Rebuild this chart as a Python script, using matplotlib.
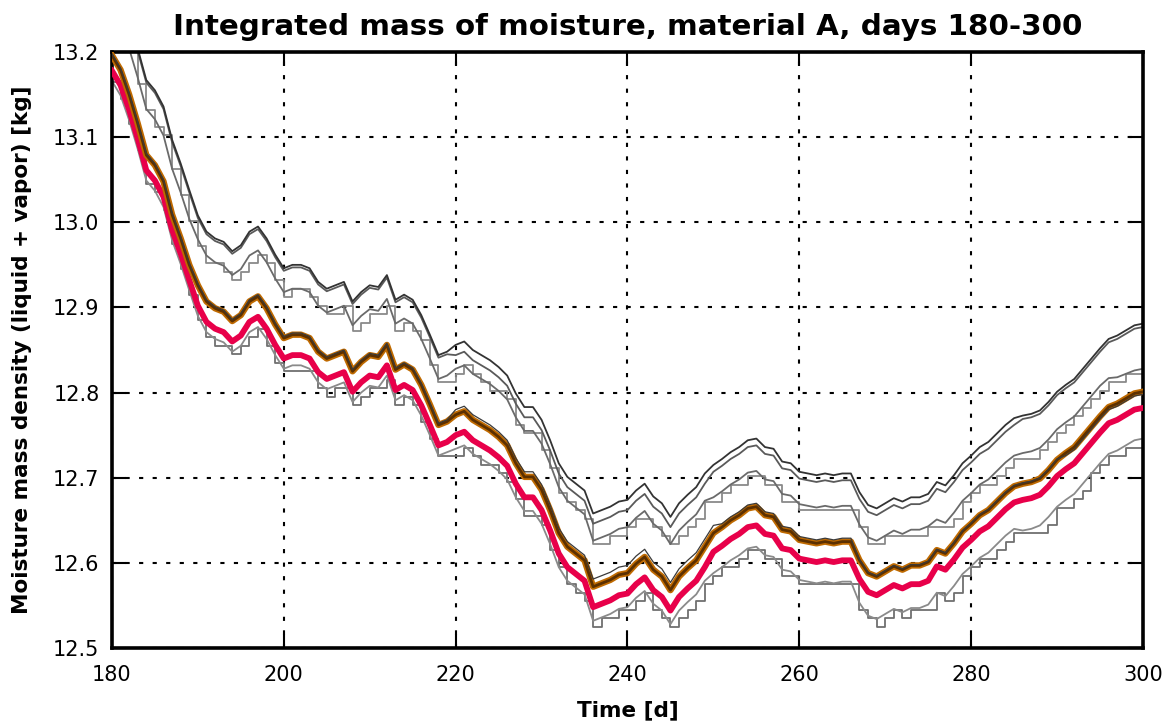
import numpy as np
import matplotlib
matplotlib.use("Agg")
import matplotlib.pyplot as plt

days = list(range(180, 301))

brown = [13.196,13.179,13.150,13.116,13.079,13.067,13.048,13.009,12.981,12.950,
12.926,12.907,12.899,12.895,12.884,12.891,12.907,12.913,12.899,12.880,
12.864,12.868,12.868,12.864,12.848,12.840,12.844,12.848,12.825,12.836,
12.844,12.842,12.856,12.827,12.833,12.827,12.809,12.786,12.762,12.766,
12.774,12.778,12.768,12.762,12.756,12.748,12.738,12.717,12.701,12.701,
12.686,12.662,12.635,12.619,12.611,12.603,12.572,12.576,12.580,12.586,
12.588,12.599,12.607,12.592,12.584,12.568,12.584,12.594,12.603,12.619,
12.635,12.642,12.650,12.656,12.664,12.666,12.656,12.654,12.639,12.637,
12.627,12.625,12.623,12.625,12.623,12.625,12.625,12.603,12.588,12.584,
12.590,12.596,12.592,12.597,12.597,12.601,12.615,12.611,12.623,12.637,
12.646,12.656,12.662,12.672,12.682,12.690,12.693,12.695,12.699,12.709,
12.721,12.729,12.736,12.748,12.760,12.772,12.783,12.787,12.793,12.799,
12.801]

red = [13.178,13.161,13.132,13.098,13.061,13.049,13.030,12.991,12.963,12.932,
12.902,12.883,12.875,12.871,12.860,12.867,12.883,12.889,12.875,12.856,
12.840,12.844,12.844,12.840,12.824,12.816,12.820,12.824,12.801,12.812,
12.820,12.818,12.832,12.803,12.809,12.803,12.785,12.762,12.738,12.742,
12.750,12.754,12.744,12.738,12.732,12.724,12.714,12.693,12.677,12.677,
12.662,12.638,12.611,12.595,12.587,12.579,12.548,12.552,12.556,12.562,
12.564,12.575,12.583,12.568,12.560,12.544,12.560,12.570,12.579,12.595,
12.613,12.620,12.628,12.634,12.642,12.644,12.634,12.632,12.617,12.615,
12.605,12.603,12.601,12.603,12.601,12.603,12.603,12.581,12.566,12.562,
12.568,12.574,12.570,12.575,12.575,12.579,12.596,12.592,12.604,12.618,
12.627,12.637,12.643,12.653,12.663,12.671,12.674,12.676,12.680,12.690,
12.702,12.710,12.717,12.729,12.741,12.753,12.764,12.768,12.774,12.780,
12.782]

upper_a = [13.284,13.267,13.238,13.204,13.167,13.155,13.136,13.097,13.069,13.038,
13.008,12.989,12.981,12.977,12.966,12.973,12.989,12.995,12.981,12.962,
12.946,12.950,12.950,12.946,12.930,12.922,12.926,12.930,12.907,12.918,
12.926,12.924,12.938,12.909,12.915,12.909,12.891,12.868,12.844,12.848,
12.856,12.860,12.850,12.844,12.838,12.830,12.820,12.799,12.783,12.783,
12.768,12.744,12.717,12.701,12.693,12.685,12.658,12.662,12.666,12.672,
12.674,12.685,12.693,12.678,12.670,12.654,12.670,12.680,12.689,12.705,
12.715,12.722,12.730,12.736,12.744,12.746,12.736,12.734,12.719,12.717,
12.707,12.705,12.703,12.705,12.703,12.705,12.705,12.683,12.668,12.664,
12.670,12.676,12.672,12.677,12.677,12.681,12.695,12.691,12.703,12.717,
12.726,12.736,12.742,12.752,12.762,12.770,12.773,12.775,12.779,12.789,
12.801,12.809,12.816,12.828,12.840,12.852,12.863,12.867,12.873,12.879,
12.881]

upper_b = [13.281,13.264,13.235,13.201,13.164,13.152,13.133,13.094,13.066,13.035,
13.005,12.986,12.978,12.974,12.963,12.970,12.986,12.992,12.978,12.959,
12.943,12.947,12.947,12.943,12.927,12.919,12.923,12.927,12.904,12.915,
12.923,12.921,12.935,12.906,12.912,12.906,12.888,12.865,12.841,12.845,
12.844,12.848,12.838,12.832,12.826,12.818,12.808,12.787,12.771,12.771,
12.756,12.732,12.705,12.689,12.681,12.673,12.646,12.650,12.654,12.660,
12.662,12.673,12.681,12.666,12.658,12.642,12.658,12.668,12.677,12.693,
12.707,12.714,12.722,12.728,12.736,12.738,12.728,12.726,12.711,12.709,
12.699,12.697,12.695,12.697,12.695,12.697,12.697,12.675,12.660,12.656,
12.662,12.668,12.664,12.669,12.669,12.673,12.687,12.683,12.695,12.709,
12.718,12.728,12.734,12.744,12.754,12.762,12.769,12.771,12.775,12.785,
12.797,12.805,12.812,12.824,12.836,12.848,12.859,12.863,12.869,12.875,
12.877]

mid_smooth = [13.250,13.233,13.204,13.170,13.133,13.121,13.102,13.063,13.035,13.004,
12.980,12.961,12.953,12.949,12.938,12.945,12.961,12.967,12.953,12.934,
12.918,12.922,12.922,12.918,12.902,12.894,12.898,12.902,12.879,12.890,
12.898,12.896,12.910,12.881,12.887,12.881,12.863,12.840,12.816,12.820,
12.828,12.832,12.822,12.816,12.810,12.802,12.792,12.771,12.755,12.755,
12.740,12.716,12.689,12.673,12.665,12.657,12.626,12.630,12.634,12.640,
12.642,12.653,12.661,12.646,12.638,12.622,12.638,12.648,12.657,12.673,
12.677,12.684,12.692,12.698,12.706,12.708,12.698,12.696,12.681,12.679,
12.669,12.667,12.665,12.667,12.665,12.667,12.667,12.645,12.630,12.626,
12.632,12.638,12.634,12.639,12.639,12.643,12.651,12.647,12.659,12.673,
12.682,12.692,12.698,12.708,12.718,12.726,12.729,12.731,12.735,12.745,
12.757,12.765,12.772,12.784,12.796,12.808,12.817,12.818,12.822,12.826,
12.828]

mid_step = [13.242,13.232,13.202,13.162,13.132,13.112,13.102,13.062,13.032,13.002,
12.972,12.952,12.952,12.942,12.932,12.942,12.952,12.962,12.952,12.932,
12.912,12.922,12.922,12.912,12.902,12.892,12.892,12.902,12.872,12.882,
12.892,12.892,12.902,12.872,12.882,12.872,12.862,12.832,12.812,12.812,
12.822,12.832,12.822,12.812,12.802,12.802,12.792,12.762,12.752,12.752,
12.732,12.712,12.682,12.672,12.662,12.652,12.622,12.622,12.632,12.632,
12.642,12.652,12.652,12.642,12.632,12.622,12.632,12.642,12.652,12.672,
12.672,12.682,12.692,12.692,12.702,12.702,12.692,12.692,12.672,12.672,
12.662,12.662,12.662,12.662,12.662,12.662,12.662,12.642,12.622,12.622,
12.632,12.632,12.632,12.632,12.632,12.642,12.642,12.642,12.652,12.672,
12.682,12.692,12.692,12.702,12.712,12.722,12.722,12.722,12.732,12.742,
12.752,12.762,12.772,12.782,12.792,12.802,12.812,12.812,12.822,12.822,
12.822]

near_mean = [13.198,13.181,13.152,13.118,13.081,13.069,13.050,13.011,12.983,12.952,
12.928,12.909,12.901,12.897,12.886,12.893,12.909,12.915,12.901,12.882,
12.866,12.870,12.870,12.866,12.850,12.842,12.846,12.850,12.827,12.838,
12.846,12.844,12.858,12.829,12.835,12.829,12.811,12.788,12.764,12.768,
12.780,12.784,12.774,12.768,12.762,12.754,12.744,12.723,12.707,12.707,
12.692,12.668,12.641,12.625,12.617,12.609,12.581,12.585,12.589,12.595,
12.597,12.608,12.616,12.601,12.593,12.577,12.593,12.603,12.612,12.628,
12.644,12.646,12.654,12.660,12.668,12.670,12.660,12.658,12.643,12.641,
12.631,12.629,12.627,12.629,12.627,12.629,12.629,12.604,12.589,12.585,
12.591,12.597,12.593,12.598,12.598,12.602,12.616,12.612,12.624,12.638,
12.647,12.657,12.663,12.673,12.683,12.691,12.694,12.696,12.700,12.710,
12.722,12.726,12.733,12.745,12.757,12.769,12.780,12.784,12.790,12.796,
12.798]

low_smooth = [13.166,13.149,13.120,13.086,13.049,13.037,13.018,12.979,12.951,12.920,
12.890,12.871,12.863,12.859,12.848,12.855,12.871,12.877,12.863,12.844,
12.828,12.832,12.832,12.828,12.812,12.804,12.808,12.812,12.789,12.800,
12.808,12.806,12.820,12.791,12.797,12.791,12.773,12.750,12.726,12.730,
12.734,12.738,12.728,12.722,12.716,12.708,12.698,12.677,12.661,12.661,
12.646,12.622,12.595,12.579,12.571,12.563,12.532,12.536,12.540,12.546,
12.548,12.559,12.567,12.552,12.544,12.528,12.544,12.554,12.563,12.579,
12.588,12.595,12.603,12.609,12.617,12.619,12.609,12.607,12.592,12.590,
12.580,12.578,12.576,12.578,12.576,12.578,12.578,12.553,12.538,12.534,
12.540,12.546,12.542,12.547,12.547,12.551,12.565,12.561,12.573,12.587,
12.596,12.606,12.612,12.622,12.632,12.640,12.638,12.640,12.644,12.654,
12.666,12.674,12.681,12.693,12.705,12.717,12.728,12.732,12.738,12.744,
12.746]

low_step = [13.165,13.145,13.115,13.085,13.045,13.035,13.015,12.975,12.945,12.915,
12.885,12.865,12.855,12.855,12.845,12.855,12.865,12.875,12.855,12.835,
12.825,12.825,12.825,12.825,12.805,12.795,12.805,12.805,12.785,12.795,
12.805,12.805,12.815,12.785,12.795,12.785,12.765,12.745,12.725,12.725,
12.725,12.735,12.725,12.715,12.715,12.705,12.695,12.675,12.655,12.655,
12.645,12.615,12.595,12.575,12.565,12.555,12.525,12.535,12.535,12.545,
12.545,12.555,12.565,12.545,12.535,12.525,12.535,12.545,12.555,12.575,
12.585,12.595,12.595,12.605,12.615,12.615,12.605,12.605,12.585,12.585,
12.575,12.575,12.575,12.575,12.575,12.575,12.575,12.545,12.535,12.525,
12.535,12.545,12.535,12.545,12.545,12.545,12.565,12.555,12.565,12.585,
12.595,12.605,12.605,12.615,12.625,12.635,12.635,12.635,12.635,12.645,
12.665,12.665,12.675,12.685,12.705,12.715,12.725,12.725,12.735,12.735,
12.745]

x_ticks = [180, 200, 220, 240, 260, 280, 300]
y_ticks = [12.5, 12.6, 12.7, 12.8, 12.9, 13.0, 13.1, 13.2]

fig = plt.figure(figsize=(11.71, 7.21), dpi=100)
ax = fig.add_axes([0.0956, 0.1012, 0.8805, 0.8267])

ax.plot(days, low_step, color="#6f6f6f", lw=1.3, drawstyle="steps-post", zorder=2)
ax.plot(days, low_smooth, color="#8a8a8a", lw=1.3, zorder=2)
ax.plot(days, mid_step, color="#8a8a8a", lw=1.3, drawstyle="steps-post", zorder=2)
ax.plot(days, mid_smooth, color="#6a6a6a", lw=1.3, zorder=2)
ax.plot(days, upper_b, color="#5a5a5a", lw=1.3, zorder=2)
ax.plot(days, upper_a, color="#333333", lw=1.3, zorder=2)
ax.plot(days, red, color="#e8004a", lw=4.2, zorder=3, solid_joinstyle="round")
ax.plot(days, brown, color="#bf6a00", lw=4.6, zorder=4, solid_joinstyle="round")
ax.plot(days, brown, color="#5c3000", lw=2.0, zorder=5)
ax.plot(days, near_mean, color="#3a3a3a", lw=0.9, zorder=6)

ax.set_xlim(180, 300)
ax.set_ylim(12.5, 13.2)
ax.set_xticks(x_ticks)
ax.set_yticks(y_ticks)
ax.set_xticklabels([str(t) for t in x_ticks])
ax.set_yticklabels([f"{t:.1f}" for t in y_ticks])
ax.tick_params(axis="x", which="major", pad=12)
ax.tick_params(axis="y", which="major", pad=9)
ax.tick_params(axis="both", which="major", direction="in", length=10, width=1.5,
               labelsize=15, top=True, right=True)
ax.grid(True, color="black", linestyle=(0, (2, 4.5)), linewidth=1.5)
for s in ax.spines.values():
    s.set_linewidth(2.6)

ax.set_title("Integrated mass of moisture, material A, days 180-300",
             fontsize=21.2, fontweight="bold", pad=12)
ax.set_xlabel("Time [d]", fontsize=15.5, fontweight="bold", labelpad=11)
ax.set_ylabel("Moisture mass density (liquid + vapor) [kg]", fontsize=15.5,
              fontweight="bold", labelpad=15)

fig.savefig("out.png", dpi=100)
